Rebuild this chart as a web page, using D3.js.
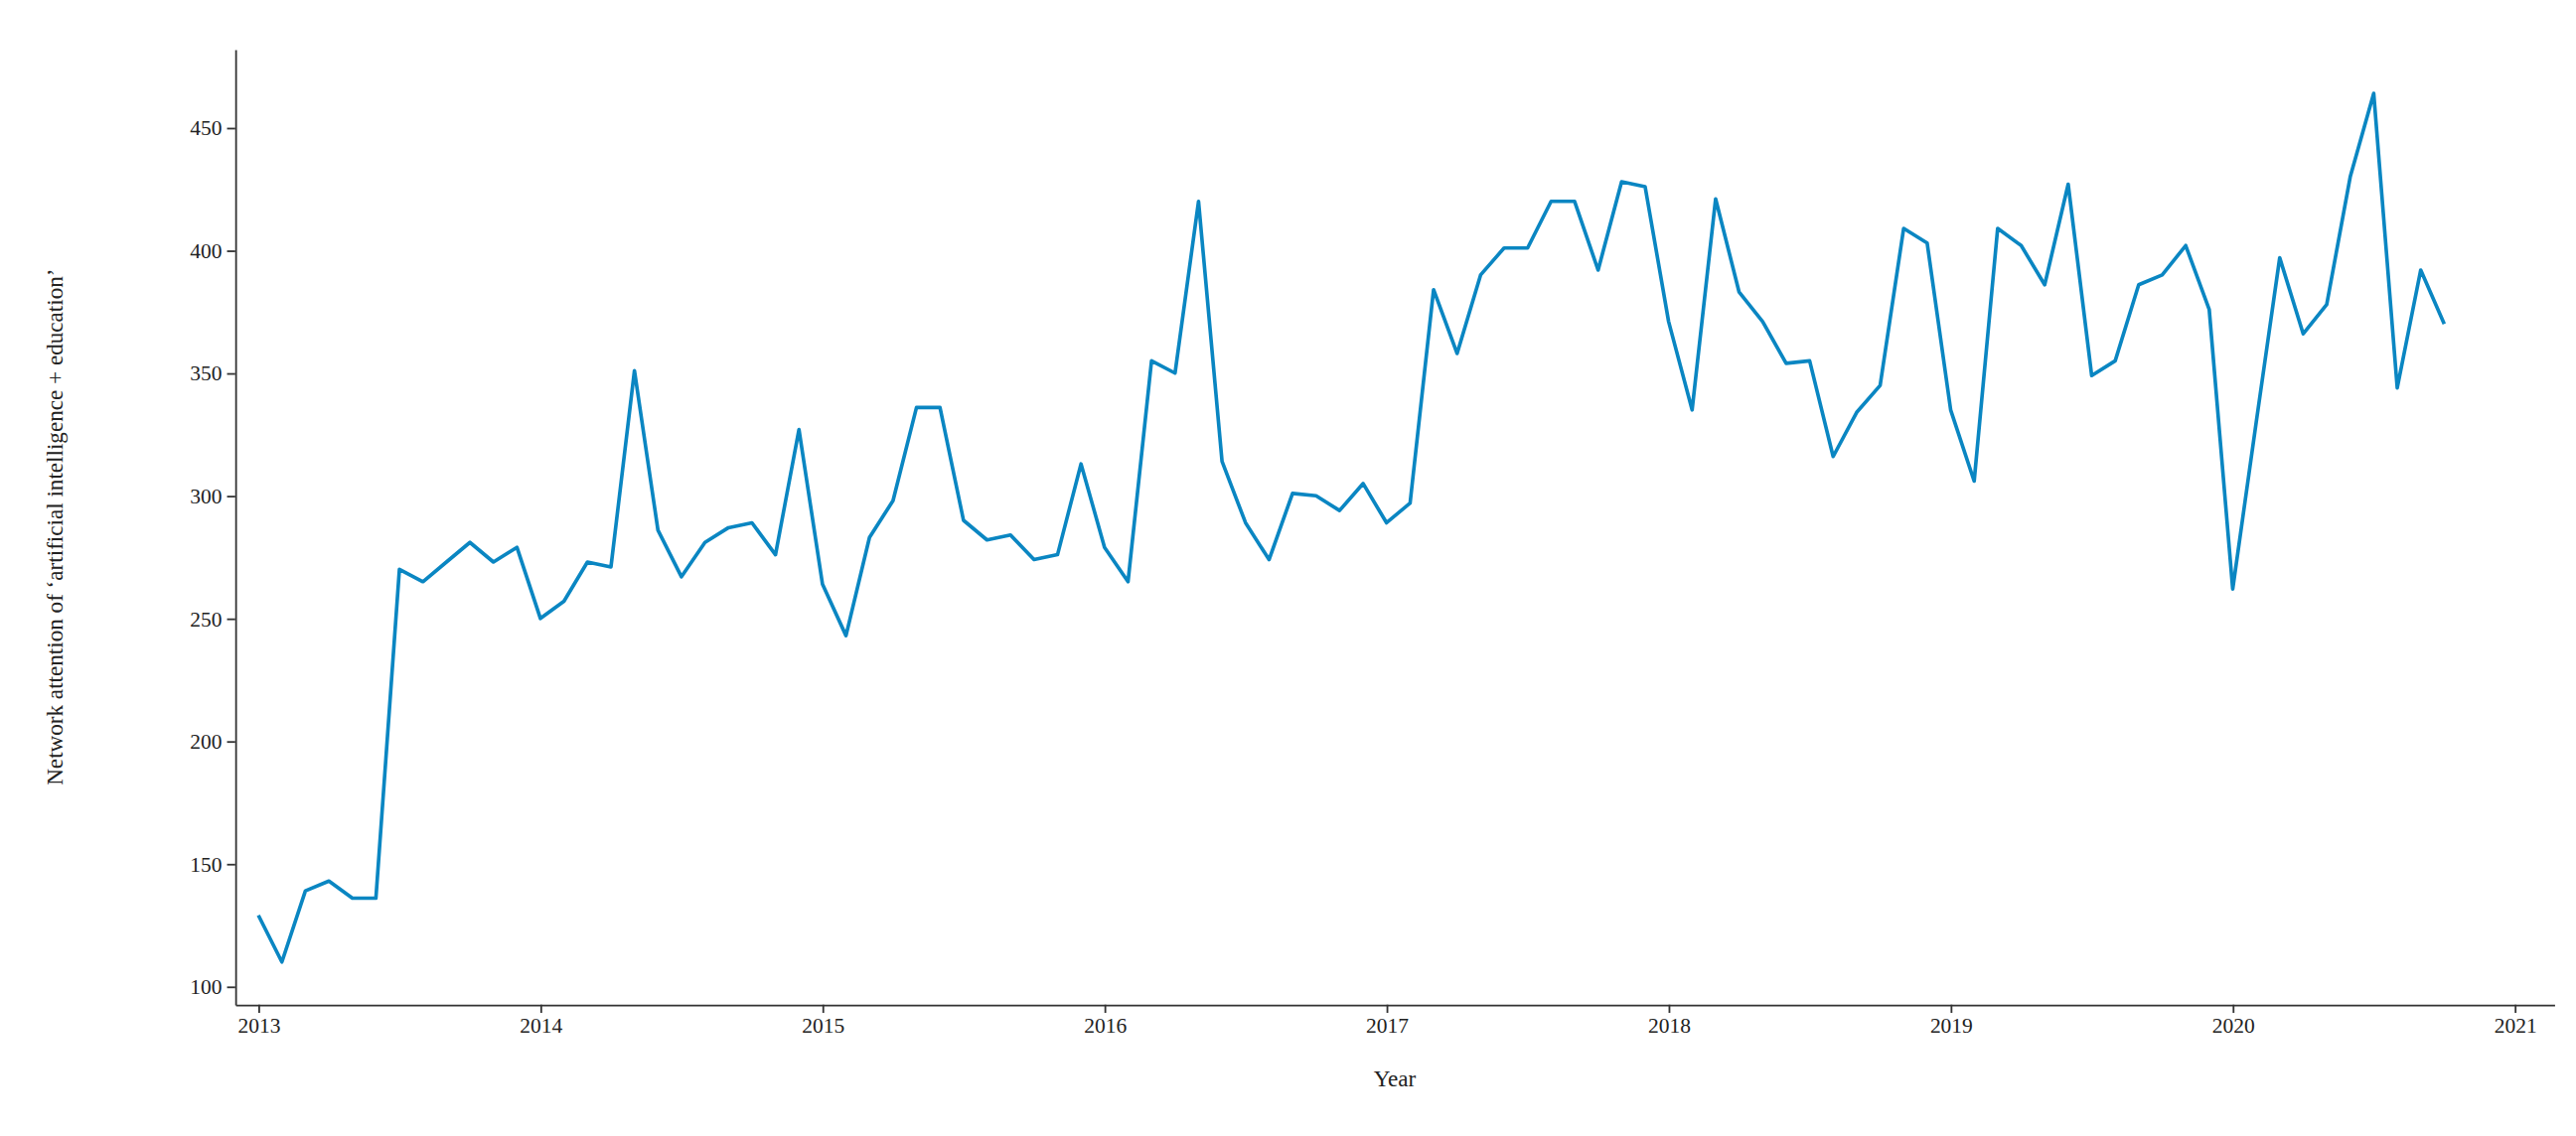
<!DOCTYPE html>
<html><head><meta charset="utf-8">
<script src="https://cdn.jsdelivr.net/npm/d3@7"></script>
<style>body{margin:0;background:#fff}</style></head>
<body><svg id="c" width="2593" height="1144" viewBox="0 0 1568 692"></svg>
<script>
const startYear = 2013;
const values = [
129,110,139,143,136,136,270,265,273,281,273,279,
250,257,273,271,351,286,267,281,287,289,276,327,
264,243,283,298,336,336,290,282,284,274,276,313,
279,265,355,350,420,314,289,274,301,300,294,305,
289,297,384,358,390,401,401,420,420,392,428,426,
371,335,421,383,371,354,355,316,334,345,409,403,
335,306,409,402,386,427,349,355,386,390,402,376,
262,330,397,366,378,430,464,344,392,370];
const xTicks = [2013,2014,2015,2016,2017,2018,2019,2020,2021];
const yTicks = [100,150,200,250,300,350,400,450];

const svg = d3.select("#c");
const x = d3.scaleLinear().domain([2012.918, 2021.14]).range([143, 1555]);
const y = d3.scaleLinear().domain([92.6, 482]).range([612, 30]);
const font = "Liberation Serif, Times New Roman, serif";

const gx = svg.append("g").attr("transform","translate(0,612)")
  .call(d3.axisBottom(x).tickValues(xTicks).tickFormat(d3.format("d")).tickSize(5).tickSizeOuter(0));
const gy = svg.append("g").attr("transform","translate(143,0)")
  .call(d3.axisLeft(y).tickValues(yTicks).tickSize(5).tickSizeOuter(0));
[gx,gy].forEach(g=>{g.selectAll("text").attr("font-family",font).attr("font-size",13).attr("fill","#222");
  g.selectAll("line,path").attr("stroke","#333").attr("stroke-width",1.1);});

svg.append("path").datum(values)
  .attr("fill","none").attr("stroke","#0a86c2").attr("stroke-width",2.2).attr("stroke-linejoin","round")
  .attr("d", d3.line().x((d,i)=>x(startYear + i/12)).y(d=>y(d)));

svg.append("text").attr("x",(143+1555)/2).attr("y",662).attr("text-anchor","middle")
  .attr("font-family",font).attr("font-size",14).attr("fill","#222").text("Year");
svg.append("text").attr("transform",`translate(38,${(30+612)/2}) rotate(-90)`).attr("text-anchor","middle")
  .attr("font-family",font).attr("font-size",14).attr("fill","#222")
  .text("Network attention of \u2018artificial intelligence + education\u2019");
</script></body></html>
